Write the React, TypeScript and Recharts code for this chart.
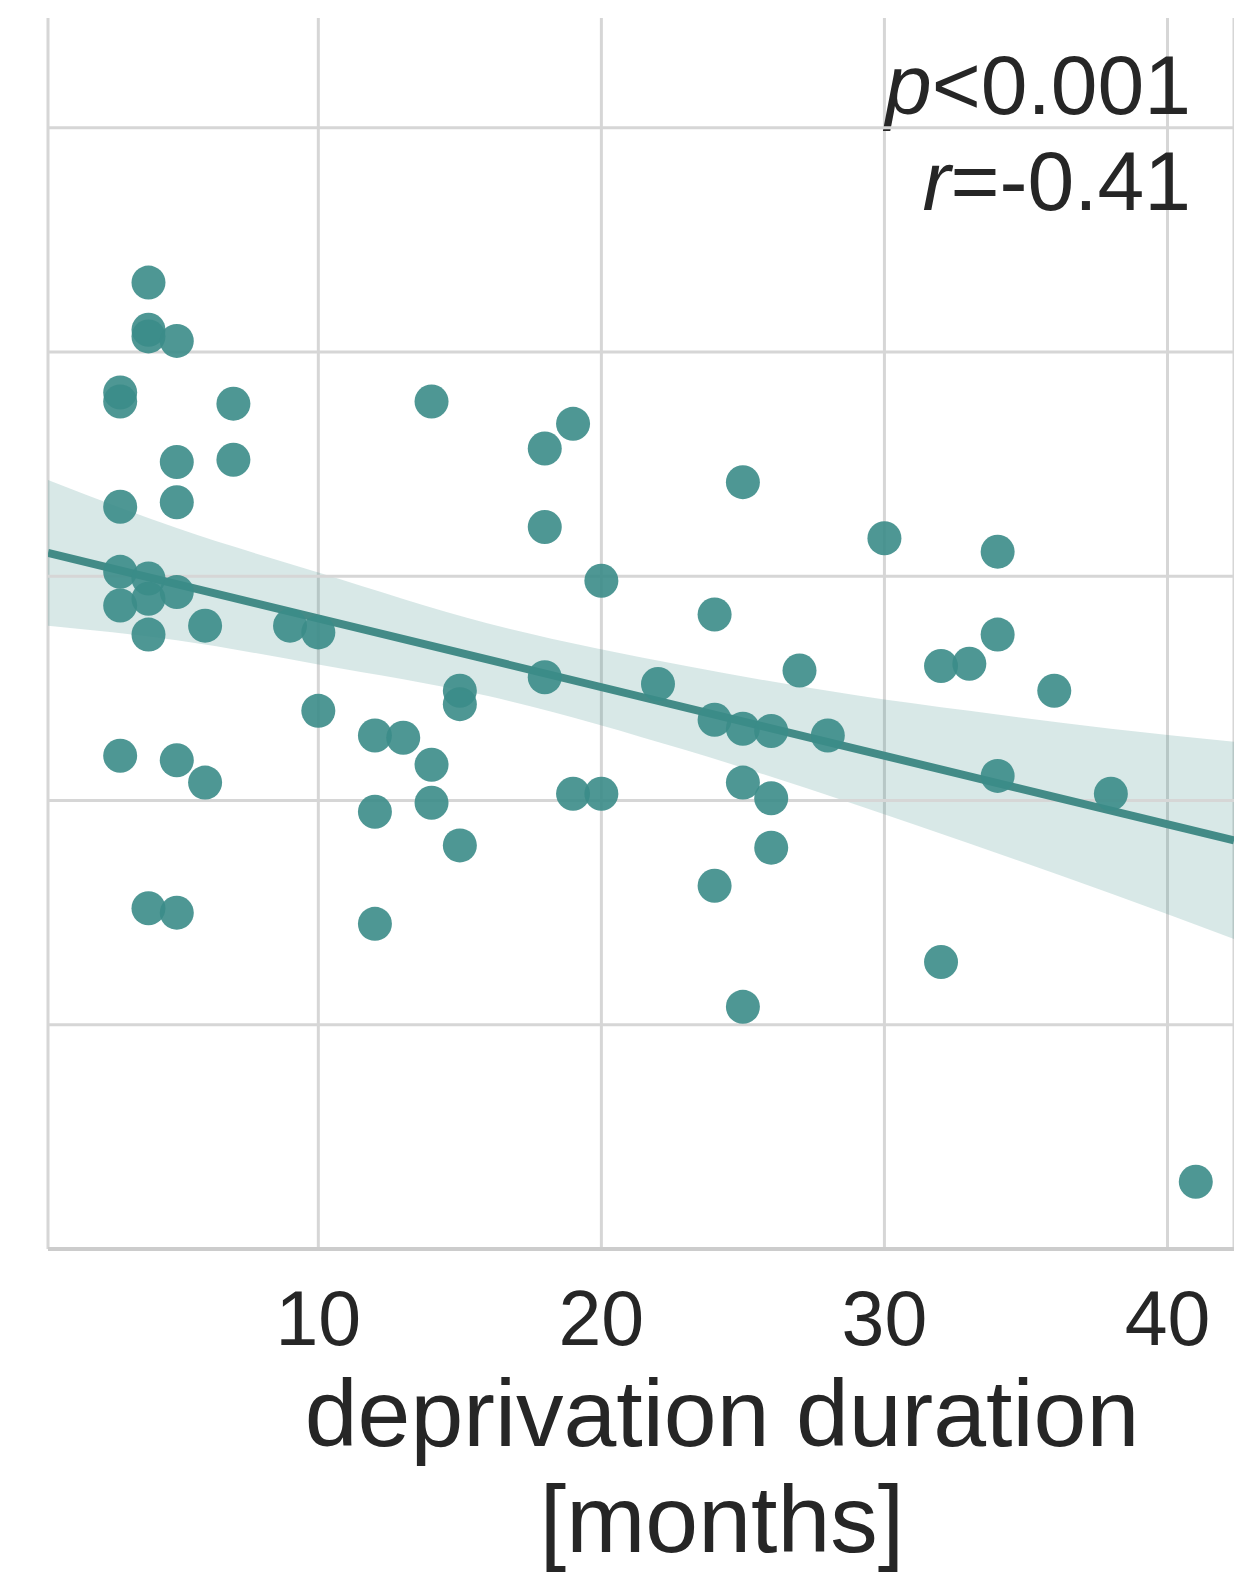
import { ComposedChart, Area, Line, Scatter, XAxis, YAxis, CartesianGrid, ReferenceLine } from 'recharts';

// observations: deprivation duration (months) vs. score
const months = [
  3, 3, 3, 3, 3, 3,
  4, 4, 4, 4, 4, 4, 4,
  5, 5, 5, 5, 5, 5,
  6, 6, 7, 7, 9, 10, 10,
  12, 12, 12, 13, 14, 14, 14, 15, 15, 15,
  18, 18, 18, 19, 19, 20, 20, 22,
  24, 24, 24, 25, 25, 25, 25, 26, 26, 26,
  27, 28, 30, 32, 32, 33, 34, 34, 34, 36, 38, 41,
];
const scores = [
  3.82, 3.78, 3.31, 3.02, 2.87, 2.2,
  4.31, 4.1, 4.07, 2.99, 2.9, 2.74, 1.52,
  4.05, 3.51, 3.33, 2.93, 2.18, 1.5,
  2.78, 2.08, 3.77, 3.52, 2.78, 2.75, 2.4,
  2.29, 1.95, 1.45, 2.28, 3.78, 2.16, 1.99, 2.49, 2.43, 1.8,
  3.57, 3.22, 2.55, 3.68, 2.03, 2.98, 2.03, 2.52,
  2.83, 2.36, 1.62, 3.42, 2.32, 2.08, 1.08, 2.31, 2.01, 1.79,
  2.58, 2.29, 3.17, 2.6, 1.28, 2.61, 3.11, 2.74, 2.11, 2.49, 2.03, 0.3,
];

// regression fit and its confidence band
const fitMonths = [0.45, 42.35];
const fitScores = [3.104, 1.822];
const bandMonths = [0.45, 5, 10, 16, 23, 29, 33, 38, 42.35];
const bandLower = [2.78, 2.715, 2.607, 2.466, 2.224, 1.981, 1.808, 1.585, 1.382];
const bandUpper = [3.43, 3.215, 3.017, 2.79, 2.6, 2.47, 2.4, 2.32, 2.262];

const xTicks = [10, 20, 30, 40];
const yTicks = [0, 1, 2, 3, 4, 5];

const points = months.map((x, i) => ({ x, y: scores[i] }));
const fit = fitMonths.map((x, i) => ({ x, y: fitScores[i] }));
const band = bandMonths.map((x, i) => ({ x, range: [bandLower[i], bandUpper[i]] }));

const TEAL = '#3b8c88';
const TEXT = '#262626';
const GRID = '#d6d6d6';
const FONT = '"Liberation Sans", Arial, Helvetica, sans-serif';

const renderTick = (props: any) => {
  const { x, y, payload } = props;
  return (
    <text x={x} y={y + 96} textAnchor="middle" fontSize={77} fill={TEXT} fontFamily={FONT}>
      {payload.value}
    </text>
  );
};

const renderAxisTitle = (props: any) => {
  const { viewBox } = props;
  const cx = viewBox.x + 674;
  return (
    <g fontFamily={FONT} fontSize={95} fill={TEXT} textAnchor="middle">
      <text x={cx} y={viewBox.y + 197}>deprivation duration</text>
      <text x={cx} y={viewBox.y + 303}>[months]</text>
    </g>
  );
};

const renderDot = (props: any) => (
  <circle cx={props.cx} cy={props.cy} r={17} fill={TEAL} fillOpacity={0.9} />
);

export default function App() {
  return (
    <div
      style={{
        position: 'absolute',
        left: 0,
        top: 0,
        width: 1234,
        height: 1579,
        overflow: 'hidden',
        background: '#fff',
      }}
    >
      <ComposedChart width={1234} height={1579} margin={{ top: 18, right: 0, left: 48, bottom: 0 }}>
        <CartesianGrid stroke={GRID} strokeWidth={3} horizontal={false} />
        {yTicks.slice(1).map((v) => (
          <ReferenceLine key={v} y={v} stroke={GRID} strokeWidth={3} />
        ))}
        <XAxis
          type="number"
          dataKey="x"
          domain={[0.45, 42.35]}
          ticks={xTicks}
          interval={0}
          allowDataOverflow
          height={330}
          tickLine={false}
          tickSize={0}
          tickMargin={0}
          axisLine={{ stroke: '#cccccc', strokeWidth: 4 }}
          tick={renderTick}
          label={{ content: renderAxisTitle }}
        />
        <YAxis
          type="number"
          domain={[0, 5.49]}
          ticks={yTicks}
          allowDataOverflow
          width={0}
          tick={false}
          tickLine={false}
          axisLine={{ stroke: '#cccccc', strokeWidth: 4 }}
        />
        <Area
          data={band}
          dataKey="range"
          type="monotone"
          stroke="none"
          fill={TEAL}
          fillOpacity={0.2}
          isAnimationActive={false}
        />
        <Scatter data={points} dataKey="y" shape={renderDot} isAnimationActive={false} />
        <Line
          data={fit}
          dataKey="y"
          type="linear"
          stroke="#438b87"
          strokeWidth={8}
          dot={false}
          activeDot={false}
          isAnimationActive={false}
        />
        <text x={1191} y={114} textAnchor="end" fontSize={84} fill={TEXT} fontFamily={FONT}>
          <tspan fontStyle="italic">p</tspan>&lt;0.001
        </text>
        <text x={1191} y={210} textAnchor="end" fontSize={84} fill={TEXT} fontFamily={FONT}>
          <tspan fontStyle="italic">r</tspan>=-0.41
        </text>
      </ComposedChart>
    </div>
  );
}
